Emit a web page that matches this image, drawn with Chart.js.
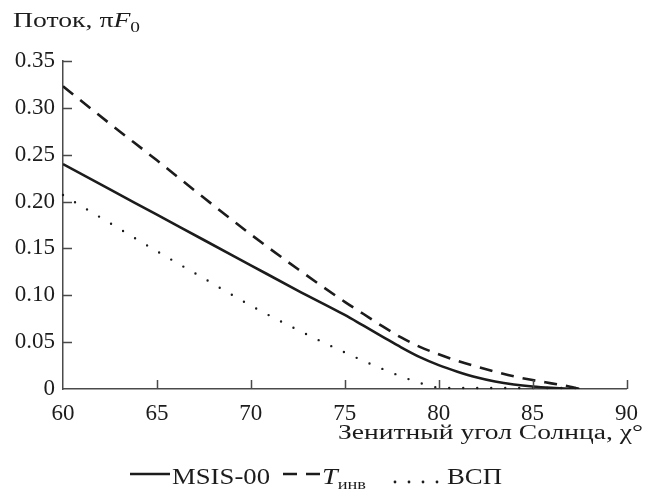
<!DOCTYPE html>
<html>
<head>
<meta charset="utf-8">
<script src="https://cdn.jsdelivr.net/npm/chart.js@4.4.1/dist/chart.umd.min.js"></script>
<style>
  html, body { margin: 0; padding: 0; background: #fff; }
</style>
</head>
<body>
<canvas id="fluxChart" width="649" height="490"></canvas>
<script>
// zenith angle, degrees
const angles = [60, 62.5, 65, 67.5, 70, 72.5, 75, 76, 77, 78, 79, 80, 81, 82, 83, 84, 85, 86, 87, 87.5];
// flux, pi*F0
const msis = [0.240, 0.213, 0.186, 0.159, 0.132, 0.105, 0.079, 0.0675, 0.056, 0.0445, 0.034, 0.0255, 0.0185, 0.0125, 0.008, 0.0048, 0.0026, 0.0012, 0.0003, 0];
const tInv = [0.323, 0.283, 0.244, 0.204, 0.165, 0.128, 0.093, 0.080, 0.067, 0.055, 0.045, 0.037, 0.030, 0.024, 0.0185, 0.0135, 0.0095, 0.006, 0.0025, 0];
const vsp = [0.207, 0.177, 0.147, 0.118, 0.089, 0.063, 0.039, 0.030, 0.0215, 0.0135, 0.0065, 0.0015, 0.001, 0.001, 0.001, 0.001, 0.001, 0.001, 0.001, 0.001];

const xTicks = [60, 65, 70, 75, 80, 85, 90];
const yTicks = [0, 0.05, 0.10, 0.15, 0.20, 0.25, 0.30, 0.35];

const ink = "#1c1c1c";
const axisInk = "#4a4a4a";
const serif = "'Liberation Serif', 'Times New Roman', serif";

const toPoints = (vals) => angles.map((a, i) => ({ x: a, y: vals[i] }));

// draws a row of text pieces, squeezed/stretched to a given width
function drawRuns(ctx, runs, x, baseline, width, align) {
  let natural = 0;
  runs.forEach(r => { ctx.font = r.font; r.w = ctx.measureText(r.t).width; natural += r.w; });
  const sx = width ? width / natural : 1;
  const startX = align === "right" ? x - natural * sx : x;
  ctx.save();
  ctx.translate(startX, baseline);
  ctx.scale(sx, 1);
  ctx.textBaseline = "alphabetic";
  ctx.textAlign = "left";
  let cx = 0;
  runs.forEach(r => {
    ctx.font = r.font;
    ctx.fillText(r.t, cx, r.dy || 0);
    cx += r.w;
  });
  ctx.restore();
}

const decor = {
  id: "decor",
  afterDraw(chart) {
    const { ctx, chartArea: a, scales: { x, y } } = chart;
    ctx.save();

    // inward ticks
    ctx.strokeStyle = axisInk;
    ctx.lineWidth = 1.5;
    ctx.beginPath();
    yTicks.slice(1).forEach(v => {
      const py = Math.round(y.getPixelForValue(v)) + 0.5;
      ctx.moveTo(a.left, py);
      ctx.lineTo(a.left + 9, py);
    });
    xTicks.slice(1).forEach(v => {
      const px = Math.round(x.getPixelForValue(v)) + 0.5;
      ctx.moveTo(px, a.bottom);
      ctx.lineTo(px, a.bottom - 9);
    });
    ctx.stroke();

    ctx.fillStyle = ink;

    // axis titles
    drawRuns(ctx, [
      { t: "Поток, π", font: "20px " + serif },
      { t: "F", font: "italic 20px " + serif },
      { t: "0", font: "14px " + serif, dy: 5 }
    ], 13, 27, 127);
    drawRuns(ctx, [
      { t: "Зенитный угол Солнца, χ°", font: "20px " + serif }
    ], 643, 439, 305, "right");

    // legend
    ctx.strokeStyle = ink;
    ctx.lineWidth = 2.6;
    ctx.beginPath();
    ctx.moveTo(130, 474);
    ctx.lineTo(170, 474);
    ctx.moveTo(283, 474);
    ctx.lineTo(297, 474);
    ctx.moveTo(306, 474);
    ctx.lineTo(320, 474);
    ctx.stroke();
    [395, 409, 423, 437].forEach(px => {
      ctx.beginPath();
      ctx.arc(px, 482, 1.4, 0, Math.PI * 2);
      ctx.fill();
    });
    drawRuns(ctx, [{ t: "MSIS-00", font: "23px " + serif }], 172, 484, 98);
    drawRuns(ctx, [
      { t: "T", font: "italic 23px " + serif },
      { t: "инв", font: "15px " + serif, dy: 5 }
    ], 322, 484, 44);
    drawRuns(ctx, [{ t: "ВСП", font: "23px " + serif }], 447, 484, 55);

    ctx.restore();
  }
};

const fluxBox = document.getElementById("fluxChart").getContext("2d");

const fluxChart = new Chart(fluxBox, {
  type: "line",
  data: {
    datasets: [
      {
        label: "MSIS-00",
        data: toPoints(msis),
        borderColor: ink,
        borderWidth: 2.6,
        pointRadius: 0,
        cubicInterpolationMode: "monotone",
      },
      {
        label: "Tинв",
        data: toPoints(tInv),
        borderColor: ink,
        borderWidth: 2.6,
        borderDash: [13, 9],
        pointRadius: 0,
        cubicInterpolationMode: "monotone",
      },
      {
        label: "ВСП",
        data: toPoints(vsp),
        borderColor: ink,
        borderWidth: 2.4,
        borderDash: [0, 14],
        borderCapStyle: "round",
        pointRadius: 0,
        cubicInterpolationMode: "monotone",
        clip: 4,
      },
    ],
  },
  options: {
    responsive: false,
    animation: false,
    layout: { padding: { top: 61, right: 17, left: 0, bottom: 0 } },
    plugins: {
      legend: { display: false },
      tooltip: { enabled: false },
    },
    scales: {
      x: {
        type: "linear",
        min: 60,
        max: 90,
        grid: { display: false, drawTicks: false },
        border: { color: axisInk, width: 1.5 },
        ticks: {
          color: ink,
          font: { family: serif, size: 23 },
          padding: 11,
          maxRotation: 0,
          autoSkip: false,
        },
        afterBuildTicks: (s) => { s.ticks = xTicks.map(v => ({ value: v })); },
        afterFit: (s) => { s.height = 101; },
      },
      y: {
        min: 0,
        max: 0.35,
        grid: { display: false, drawTicks: false },
        border: { color: axisInk, width: 1.5 },
        ticks: {
          color: ink,
          font: { family: serif, size: 23 },
          padding: 8,
          callback: (v) => (v === 0 ? "0" : v.toFixed(2)),
        },
        afterBuildTicks: (s) => { s.ticks = yTicks.map(v => ({ value: v })); },
        afterFit: (s) => { s.width = 63; },
      },
    },
  },
  plugins: [decor],
});
</script>
</body>
</html>
